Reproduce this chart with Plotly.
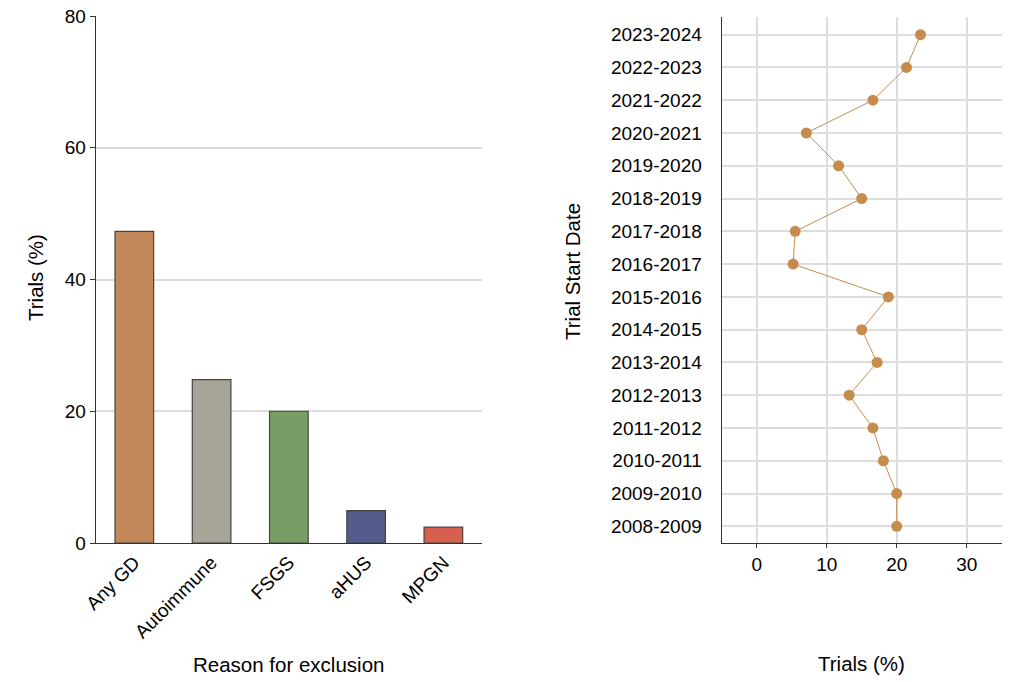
import plotly.graph_objects as go

# Left panel data
reasons = ["Any GD", "Autoimmune", "FSGS", "aHUS", "MPGN"]
reason_pct = [47.3, 24.8, 20.0, 4.9, 2.4]
bar_colors = ["#C2875A", "#A8A598", "#789D65", "#555B8A", "#D6604D"]

# Right panel data
periods = ["2008-2009", "2009-2010", "2010-2011", "2011-2012", "2012-2013",
           "2013-2014", "2014-2015", "2015-2016", "2016-2017", "2017-2018",
           "2018-2019", "2019-2020", "2020-2021", "2021-2022", "2022-2023",
           "2023-2024"]
period_pct = [20.0, 20.0, 18.1, 16.6, 13.2, 17.2, 15.0, 18.8, 5.2, 5.5,
              15.0, 11.7, 7.1, 16.6, 21.4, 23.4]

W, H = 1024, 682
FONT = "Liberation Sans, Arial, sans-serif"
FS = 19
TFS = 20.5
AXIS_COL = "#333333"
GRID_COL = "#DDDDDD"
DOT_COL = "#C68C4E"


def px(x):
    return x / W


def py(y):
    return 1 - y / H


fig = go.Figure()

fig.add_trace(go.Bar(
    x=reasons, y=reason_pct,
    marker=dict(color=bar_colors, line=dict(color="#444444", width=1.2)),
    width=0.5, xaxis="x", yaxis="y", showlegend=False,
))

fig.add_trace(go.Scatter(
    x=period_pct, y=periods, mode="lines+markers",
    line=dict(color=DOT_COL, width=1),
    marker=dict(color=DOT_COL, size=11),
    xaxis="x2", yaxis="y2", showlegend=False,
))

fig.update_layout(
    width=W, height=H,
    margin=dict(l=0, r=0, t=0, b=0, autoexpand=False),
    paper_bgcolor="white", plot_bgcolor="white",
    font=dict(family=FONT, size=FS, color="black"),
    xaxis=dict(
        domain=[px(95.7), px(482)], anchor="y", automargin=False,
        type="category", range=[-0.5, 4.5],
        tickangle=-45, showgrid=False, showline=True,
        linecolor=AXIS_COL, linewidth=1.2, ticks="", zeroline=False,
        tickfont=dict(size=FS),
    ),
    yaxis=dict(
        domain=[py(543), py(16)], anchor="x", automargin=False,
        range=[0, 80], tickvals=[0, 20, 40, 60, 80],
        showgrid=True, gridcolor=GRID_COL, gridwidth=1.5,
        showline=True, linecolor=AXIS_COL, linewidth=1.2,
        ticks="outside", ticklen=5, tickcolor=AXIS_COL,
        zeroline=False, tickfont=dict(size=FS),
    ),
    xaxis2=dict(
        domain=[px(721.7), px(1001.7)], anchor="y2", automargin=False,
        range=[-5, 35], tickvals=[0, 10, 20, 30],
        showgrid=True, gridcolor=GRID_COL, gridwidth=1.5,
        showline=True, linecolor=AXIS_COL, linewidth=1.2,
        ticks="outside", ticklen=4, tickcolor=AXIS_COL,
        zeroline=False, tickfont=dict(size=FS),
    ),
    yaxis2=dict(
        domain=[py(542.7), py(17.3)], anchor="x2", automargin=False,
        type="category", categoryorder="array", categoryarray=periods,
        range=[-0.5, 15.53],
        showgrid=True, gridcolor=GRID_COL, gridwidth=1.5,
        showline=True, linecolor=AXIS_COL, linewidth=1.2,
        ticks="", ticklabelstandoff=15, zeroline=False,
        tickfont=dict(size=FS),
    ),
    annotations=[
        dict(text="Reason for exclusion", x=px(288.5), y=py(664),
             xref="paper", yref="paper", showarrow=False,
             xanchor="center", yanchor="middle", font=dict(size=TFS)),
        dict(text="Trials (%)", x=px(35), y=py(278),
             xref="paper", yref="paper", showarrow=False, textangle=-90,
             xanchor="center", yanchor="middle", font=dict(size=TFS)),
        dict(text="Trials (%)", x=px(861), y=py(663),
             xref="paper", yref="paper", showarrow=False,
             xanchor="center", yanchor="middle", font=dict(size=TFS)),
        dict(text="Trial Start Date", x=px(572), y=py(272),
             xref="paper", yref="paper", showarrow=False, textangle=-90,
             xanchor="center", yanchor="middle", font=dict(size=TFS)),
    ],
)

fig.write_html("out.html",
               config={"displayModeBar": False},
               post_script="document.body.style.margin='0';")
